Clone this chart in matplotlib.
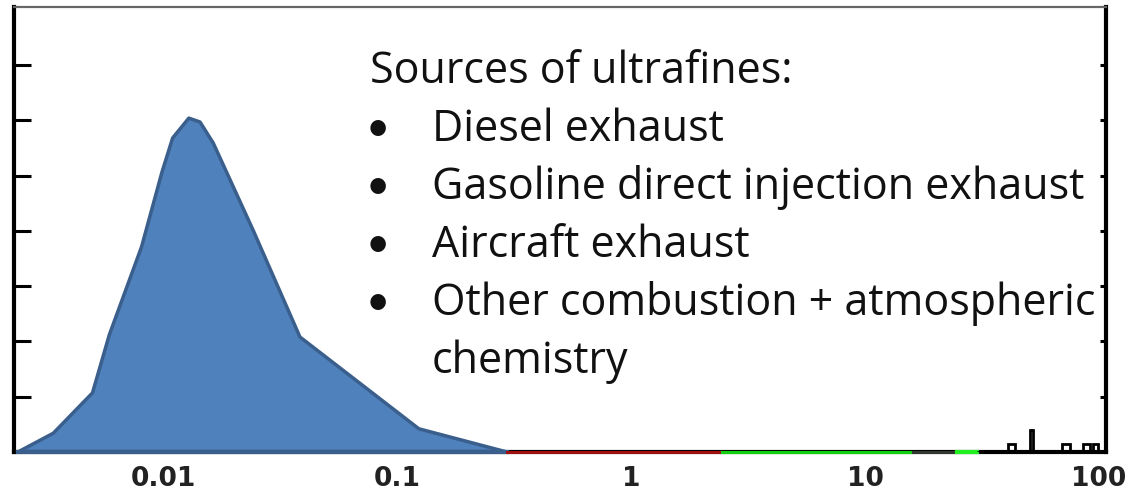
import numpy as np
import matplotlib
matplotlib.use("Agg")
import matplotlib.pyplot as plt

# particle diameter (um) vs relative number concentration
diam_fine = [0.0024, 0.0034, 0.0050, 0.0059, 0.0081, 0.0099, 0.0110,
             0.0129, 0.0144, 0.0164, 0.0243, 0.0385, 0.124, 0.295]
conc_fine = [0.0, 0.34, 1.07, 2.12, 3.71, 5.06, 5.68,
             6.04, 5.97, 5.59, 4.01, 2.08, 0.42, 0.0]

# flat tails along the baseline
red_x = [0.295, 2.45]
green_x = [2.45, 16.0]
dark_x = [16.0, 24.7]
green2_x = [24.7, 30.1]

# coarse mode, small step histogram near 100 um
coarse_edges = [30.1, 40.8, 43.8, 50.7, 52.2, 69.5, 75.2, 85.5, 91.6, 94.3, 99.0, 107]
coarse_vals = [0, 0.15, 0, 0.4, 0, 0.15, 0, 0.15, 0, 0.15, 0]

xticks = [0.01, 0.1, 1, 10, 100]
xticklabels = ["0.01", "0.1", "1", "10", "100"]
yticks = [1, 2, 3, 4, 5, 6, 7]

sources_title = "Sources of ultrafines:"
sources = ["Diesel exhaust",
           "Gasoline direct injection exhaust",
           "Aircraft exhaust",
           "Other combustion + atmospheric",
           "chemistry"]
bullets = [True, True, True, True, False]

W, H = 1132, 494
fig = plt.figure(figsize=(W / 100, H / 100), dpi=100)
ax = fig.add_axes([14 / W, 1 - 452 / H, (1106 - 14) / W, (452 - 7) / H])

ax.fill_between(diam_fine, conc_fine, 0, color="#4F81BD", zorder=2)
ax.plot(diam_fine, conc_fine, color="#3A5F8C", lw=2.5, zorder=3)
ax.plot([diam_fine[0], diam_fine[-1]], [0, 0], color="#3A5F8C", lw=3, zorder=4, clip_on=False)

ax.plot(red_x, [0, 0], color="#A01010", lw=2.2, zorder=4, clip_on=False)
ax.plot(green_x, [0, 0], color="#10D010", lw=2.2, zorder=4, clip_on=False)
ax.plot(dark_x, [0, 0], color="#303830", lw=2.2, zorder=4, clip_on=False)
ax.plot(green2_x, [0, 0], color="#20F020", lw=3, zorder=4, clip_on=False)
ax.stairs(coarse_vals, coarse_edges, color="black", lw=2, baseline=0, zorder=4)

ax.set_xscale("log")
ax.set_xlim(0.00231, 107)
ax.set_ylim(0, 8.05)

ax.set_xticks(xticks)
ax.set_xticklabels(xticklabels, fontsize=19, fontweight="bold", family="DejaVu Sans", color="#222222")
ax.xaxis.set_minor_locator(matplotlib.ticker.NullLocator())
ax.tick_params(axis="x", length=0, pad=10)

ax.set_yticks(yticks)
ax.set_yticklabels([])
ax.tick_params(axis="y", direction="in", length=12, width=2.2, color="black",
               right=True, left=True)
ax.yaxis.set_minor_locator(matplotlib.ticker.NullLocator())
# right-hand ticks are shorter
for t in ax.yaxis.get_major_ticks():
    t.tick2line.set_markersize(4)

for side in ["left", "bottom", "right"]:
    ax.spines[side].set_linewidth(3)
    ax.spines[side].set_color("black")
ax.spines["top"].set_linewidth(1.6)
ax.spines["top"].set_color("#666666")

font = dict(family=["Open Sans", "DejaVu Sans"], fontsize=31, color="#111111", va="baseline")
fig.text(370 / W, 1 - 83 / H, sources_title, ha="left", **font)
for i, (s, b) in enumerate(zip(sources, bullets)):
    yb = 1 - (141 + 58 * i) / H
    if b:
        fig.text(378 / W, yb, "\u2022", ha="center", family=["Lato", "DejaVu Sans"],
                 fontsize=30, color="#111111", va="baseline")
    fig.text(432 / W, yb, s, ha="left", **font)

fig.savefig("out.png", dpi=100)
